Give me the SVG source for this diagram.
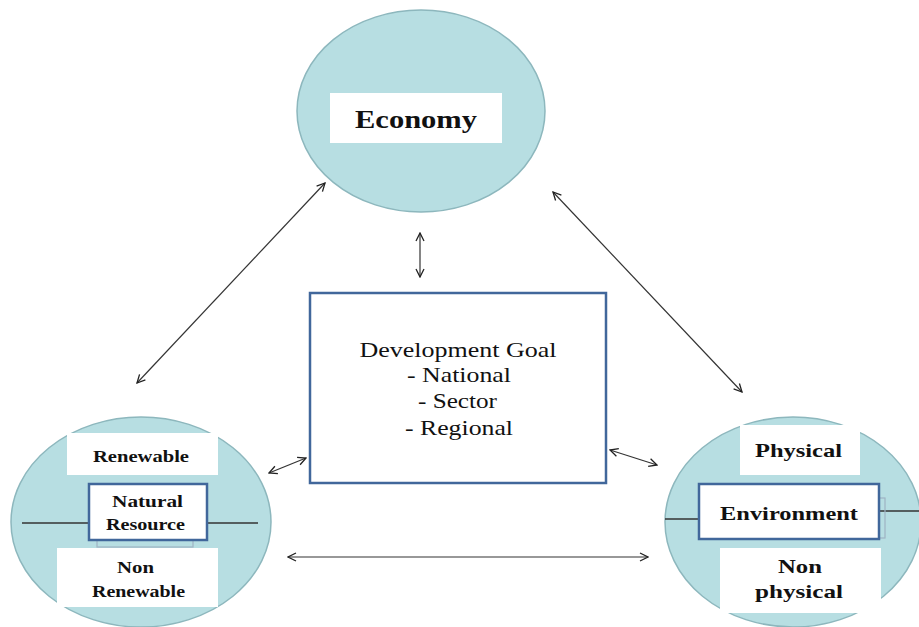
<svg xmlns="http://www.w3.org/2000/svg" width="919" height="627" viewBox="0 0 919 627">
<style>
.circ{fill:#b7dee2;stroke:#8db7bd;stroke-width:1.5}
.lbl{fill:#ffffff;stroke:none}
.blue{fill:#ffffff;stroke:#41679b;stroke-width:2.5}
.shadow{fill:none;stroke:#9fb3c4;stroke-width:1.2}
.t{font-family:"Liberation Serif","Times New Roman",serif;fill:#111;text-anchor:middle}
.b{font-weight:bold}
.conn{stroke:#333;stroke-width:1.2;fill:none;marker-start:url(#ah);marker-end:url(#ah)}
.bar{stroke:#333;stroke-width:1.3}
</style>
<defs>
<marker id="ah" viewBox="0 0 10 10" refX="9" refY="5" markerWidth="10" markerHeight="10" markerUnits="userSpaceOnUse" orient="auto-start-reverse">
<path d="M1,1 L9,5 L1,9" fill="none" stroke="#222" stroke-width="1.3"/>
</marker>
</defs>
<rect width="919" height="627" fill="#ffffff"/>

<g id="economy">
<ellipse class="circ" cx="421" cy="111" rx="124" ry="101"/>
<rect class="lbl" x="330" y="93" width="172" height="50"/>
<text class="t b" x="416" y="128" font-size="26" textLength="122" lengthAdjust="spacingAndGlyphs">Economy</text>
</g>

<g id="natural-resource">
<ellipse class="circ" cx="141" cy="522" rx="130" ry="105"/>
<line class="bar" x1="22" y1="523" x2="258" y2="523"/>
<rect class="lbl" x="67" y="433" width="151" height="42"/>
<text class="t b" x="141" y="462" font-size="17" textLength="96" lengthAdjust="spacingAndGlyphs">Renewable</text>
<rect class="shadow" x="97" y="490" width="96" height="57"/>
<rect class="blue" x="89" y="484" width="118" height="56"/>
<text class="t b" x="147.5" y="507" font-size="17" textLength="71" lengthAdjust="spacingAndGlyphs">Natural</text>
<text class="t b" x="145.5" y="530" font-size="17" textLength="79" lengthAdjust="spacingAndGlyphs">Resource</text>
<rect class="lbl" x="57" y="548" width="161" height="59"/>
<text class="t b" x="135.5" y="573" font-size="17" textLength="37" lengthAdjust="spacingAndGlyphs">Non</text>
<text class="t b" x="138.5" y="597" font-size="17" textLength="93" lengthAdjust="spacingAndGlyphs">Renewable</text>
</g>

<g id="environment">
<ellipse class="circ" cx="793" cy="522" rx="128" ry="105"/>
<line class="bar" x1="665" y1="519" x2="699" y2="519"/>
<line class="bar" x1="879" y1="511" x2="919" y2="511"/>
<rect class="lbl" x="740" y="425" width="120" height="50"/>
<text class="t b" x="798.5" y="457" font-size="19" textLength="87" lengthAdjust="spacingAndGlyphs">Physical</text>
<rect class="shadow" x="705" y="498" width="180" height="40"/>
<rect class="blue" x="699" y="484" width="180" height="55"/>
<text class="t b" x="789" y="520" font-size="19" textLength="138" lengthAdjust="spacingAndGlyphs">Environment</text>
<rect class="lbl" x="720" y="548" width="161" height="65"/>
<text class="t b" x="800" y="573" font-size="19" textLength="44" lengthAdjust="spacingAndGlyphs">Non</text>
<text class="t b" x="799" y="598" font-size="19" textLength="88" lengthAdjust="spacingAndGlyphs">physical</text>
</g>

<g id="development-goal">
<rect x="310" y="293" width="296" height="190" fill="#ffffff" stroke="#41679b" stroke-width="2.5"/>
<text class="t" x="458" y="357" font-size="21" textLength="197" lengthAdjust="spacingAndGlyphs">Development Goal</text>
<text class="t" x="459" y="382" font-size="21" textLength="104" lengthAdjust="spacingAndGlyphs">- National</text>
<text class="t" x="457.5" y="408" font-size="21" textLength="79" lengthAdjust="spacingAndGlyphs">- Sector</text>
<text class="t" x="459" y="435" font-size="21" textLength="108" lengthAdjust="spacingAndGlyphs">- Regional</text>
</g>

<g id="connectors">
<line class="conn" x1="420" y1="233" x2="420" y2="277"/>
<line class="conn" x1="325" y1="183" x2="137" y2="383"/>
<line class="conn" x1="553" y1="192" x2="742" y2="392"/>
<line class="conn" x1="306" y1="458" x2="269" y2="473"/>
<line class="conn" x1="610" y1="450" x2="657" y2="465"/>
<line class="conn" x1="288" y1="557" x2="648" y2="557"/>
</g>
</svg>
